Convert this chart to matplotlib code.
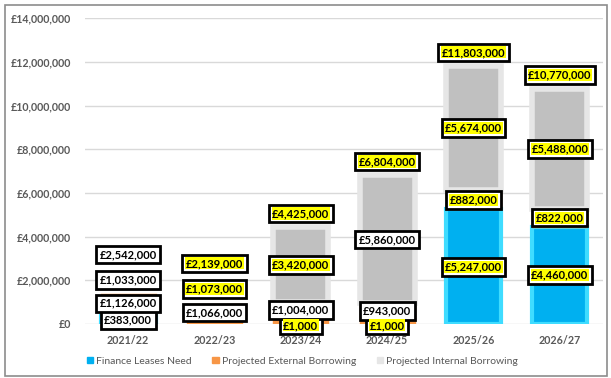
import matplotlib
matplotlib.use("Agg")
import matplotlib.pyplot as plt
from matplotlib.patches import Patch, Rectangle
from matplotlib.ticker import FuncFormatter
import numpy as np

plt.rcParams['font.family'] = ['Lato', 'DejaVu Sans']

categories = ["2021/22", "2022/23", "2023/24", "2024/25", "2025/26", "2026/27"]
finance_leases = [383000, 0, 1000, 1000, 5247000, 4460000]
external_borrowing = [1126000, 1066000, 1004000, 943000, 882000, 822000]
internal_borrowing = [1033000, 1073000, 3420000, 5860000, 5674000, 5488000]
totals = [2542000, 2139000, 4425000, 6804000, 11803000, 10770000]
series_names = ["Finance Leases Need", "Projected External Borrowing", "Projected Internal Borrowing"]
yticks = [0, 2000000, 4000000, 6000000, 8000000, 10000000, 12000000, 14000000]

# label highlight styles (yellow highlight per label)
hl_fin = [False, False, True, True, True, True]
hl_ext = [False, False, False, False, True, True]
hl_int = [False, True, True, False, True, True]
hl_tot = [False, True, True, True, True, True]
int_face = ['white', 'white', '#c0c0c0', '#c0c0c0', '#c0c0c0', '#c0c0c0']
int_edge = ['white', 'white', '#e6e6e6', '#e6e6e6', '#e6e6e6', '#e6e6e6']

fig = plt.figure(figsize=(6.11, 3.78), dpi=100)
ax = fig.add_axes([85/611, 54/378, 518/611, 305.7/378])

x = np.arange(len(categories))
w = 0.64
fin = np.array(finance_leases)
ext = np.array(external_borrowing)
itn = np.array(internal_borrowing)

ax.bar(x, fin, w, color='#00b0f0', edgecolor='#3fdcff', linewidth=3, zorder=3)
ax.bar(x, ext, w, bottom=fin, color='#f79646', edgecolor='#f79646', linewidth=1, zorder=3)
ax.bar(x, itn, w, bottom=fin + ext, color=int_face, edgecolor=int_edge, linewidth=4, zorder=3)

ax.set_ylim(0, 14000000)
ax.set_xlim(-0.5, len(categories) - 0.5)
ax.set_yticks(yticks)
ax.yaxis.set_major_formatter(FuncFormatter(lambda v, p: "£0" if v == 0 else "£{:,.0f}".format(v)))
ax.set_xticks(x)
ax.set_xticklabels(categories)
ax.tick_params(axis='both', length=0, colors='#595959', labelsize=7.7)
ax.tick_params(axis='y', pad=10)
ax.tick_params(axis='x', pad=8)
for lab in ax.get_yticklabels() + ax.get_xticklabels():
    lab.set_fontweight('bold')
ax.grid(axis='y', color='#d9d9d9', linewidth=1, zorder=0)
for s in ax.spines.values():
    s.set_visible(False)


def box_label(xv, yv, val, hl, dy=0):
    txt = "£{:,.0f}".format(val)
    ax.annotate(txt, (xv, yv), xytext=(0, dy), textcoords='offset points',
                ha='center', va='center', fontsize=8, fontweight='bold', color=(0, 0, 0, 0),
                bbox=dict(boxstyle='square,pad=0.3', fc='white', ec='black', lw=2), zorder=5)
    ax.annotate(txt, (xv, yv), xytext=(0, dy), textcoords='offset points',
                ha='center', va='center', fontsize=8, fontweight='bold', color='black',
                bbox=dict(boxstyle='square,pad=0.05', fc='#ffff00' if hl else 'white', ec='none'),
                zorder=6)


for i in range(len(categories)):
    if fin[i] > 0:
        box_label(x[i], fin[i] / 2, fin[i], hl_fin[i], dy=-1 if fin[i] < 100000 else 0)
    box_label(x[i], fin[i] + ext[i] / 2, ext[i], hl_ext[i], dy=2 if 0 < fin[i] < 100000 else 0)
    box_label(x[i], fin[i] + ext[i] + itn[i] / 2, itn[i], hl_int[i])
    box_label(x[i], totals[i], totals[i], hl_tot[i], dy=10)

handles = [Patch(color='#00b0f0'), Patch(color='#f79646'), Patch(color='#e6e6e6')]
leg = fig.legend(handles, series_names, loc='center', bbox_to_anchor=(0.495, 17/378), ncol=3,
                 frameon=False, fontsize=7.5, handlelength=0.6, handleheight=0.6,
                 handletextpad=0.3, columnspacing=2.0)
for t in leg.get_texts():
    t.set_color('#595959')

fig.patches.append(Rectangle((5/611, 2/378), 602/611, 371/378, transform=fig.transFigure,
                             fill=False, edgecolor='#8c8c8c', linewidth=1.2))

fig.savefig("out.png", dpi=100)
